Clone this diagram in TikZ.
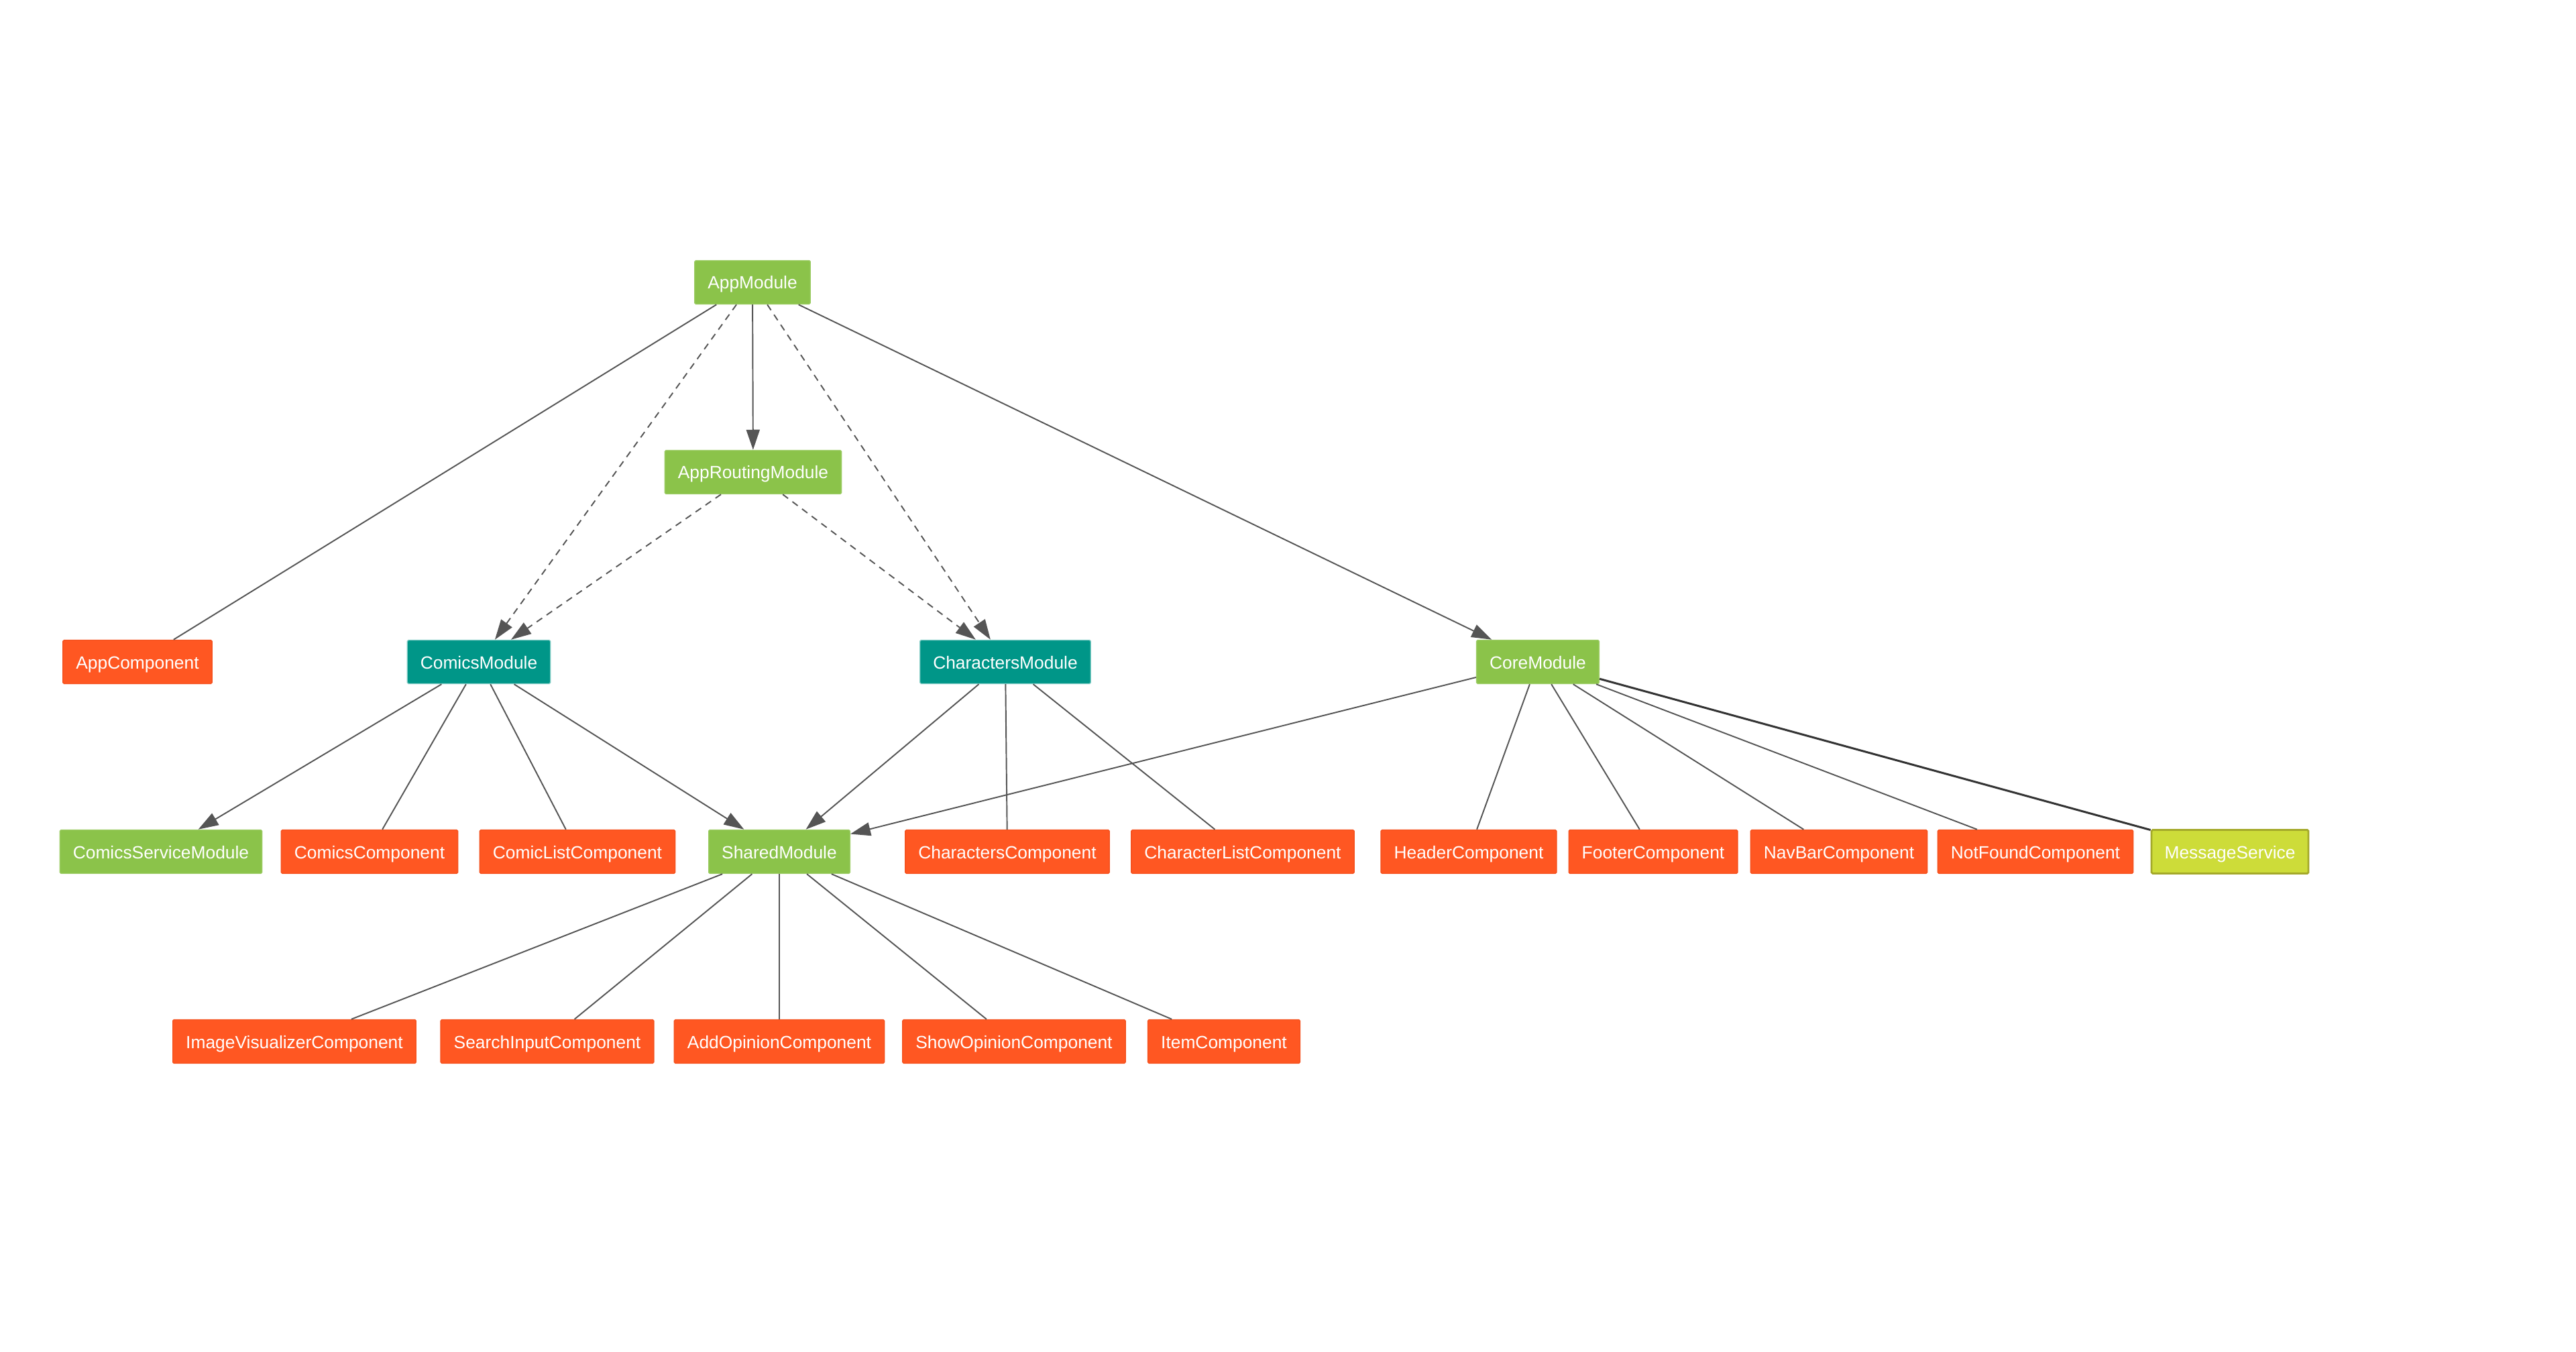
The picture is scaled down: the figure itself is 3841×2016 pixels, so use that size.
\documentclass[tikz,border=0pt]{standalone}
\usepackage{fontspec}
\setmainfont{Liberation Sans}
\usetikzlibrary{arrows.meta}

\definecolor{modgreen}{HTML}{8BC34A}
\definecolor{modgreenline}{HTML}{9CCC65}
\definecolor{lazyteal}{HTML}{009688}
\definecolor{lazytealline}{HTML}{80CBC4}
\definecolor{compred}{HTML}{FF5722}
\definecolor{compredline}{HTML}{F4511E}
\definecolor{servlime}{HTML}{CDDC39}
\definecolor{servlimeline}{HTML}{A4A92A}
\definecolor{edgegray}{HTML}{555555}

\begin{document}
\begin{tikzpicture}[
    x=0.01cm, y=-0.01cm,
    box/.style={
        rectangle,
        rounded corners=0.5pt,
        minimum height=0.65cm,
        inner xsep=0.195cm,
        inner ysep=0pt,
        text height=0.2cm,
        text depth=0cm,
        text=white,
        font=\fontsize{7.5}{9}\selectfont,
        line width=0.4pt
    },
    module/.style={box, fill=modgreen, draw=modgreenline},
    lazymodule/.style={box, fill=lazyteal, draw=lazytealline},
    component/.style={box, fill=compred, draw=compredline},
    service/.style={box, fill=servlime, draw=servlimeline, line width=0.8pt},
    link/.style={draw=edgegray, line width=0.55pt},
    dep/.style={link, -{Triangle[length=0.3cm, width=0.2cm]}},
    lazy/.style={dep, dash pattern=on 0.1cm off 0.08cm}
]

\useasboundingbox (0,0) rectangle (3841,2016);

% Root
\node[module] (app) at (1122,421) {AppModule};
\node[module] (routing) at (1123,704) {AppRoutingModule};

% Second level
\node[component] (appcomp) at (205,987) {AppComponent};
\node[lazymodule] (comics) at (714,987) {ComicsModule};
\node[lazymodule] (chars) at (1499,987) {CharactersModule};
\node[module] (core) at (2293,987) {CoreModule};

% Third level
\node[module] (comicsserv) at (240,1270) {ComicsServiceModule};
\node[component] (comicscomp) at (551,1270) {ComicsComponent};
\node[component] (comiclist) at (861,1270) {ComicListComponent};
\node[module] (shared) at (1162,1270) {SharedModule};
\node[component] (charscomp) at (1502,1270) {CharactersComponent};
\node[component] (charlist) at (1853,1270) {CharacterListComponent};
\node[component] (header) at (2190,1270) {HeaderComponent};
\node[component] (footer) at (2465,1270) {FooterComponent};
\node[component] (navbar) at (2742,1270) {NavBarComponent};
\node[component] (notfound) at (3035,1270) {NotFoundComponent};
\node[service] (message) at (3325,1270) {MessageService};

% Shared components
\node[component] (imgvis) at (439,1553) {ImageVisualizerComponent};
\node[component] (search) at (816,1553) {SearchInputComponent};
\node[component] (addop) at (1162,1553) {AddOpinionComponent};
\node[component] (showop) at (1512,1553) {ShowOpinionComponent};
\node[component] (item) at (1825,1553) {ItemComponent};

% AppModule
\draw[link] (app) -- (appcomp);
\draw[dep] (app) -- (routing);
\draw[dep] (app) -- (core);
\draw[lazy] (app) -- (comics);
\draw[lazy] (app) -- (chars);

% Routing
\draw[lazy] (routing) -- (comics);
\draw[lazy] (routing) -- (chars);

% ComicsModule
\draw[dep] (comics) -- (comicsserv);
\draw[link] (comics) -- (comicscomp);
\draw[link] (comics) -- (comiclist);
\draw[dep] (comics) -- (shared);

% CharactersModule
\draw[dep] (chars) -- (shared);
\draw[link] (chars) -- (charscomp);
\draw[link] (chars) -- (charlist);

% CoreModule
\draw[dep] (core) -- (shared);
\foreach \target in {header, footer, navbar, notfound}
  \draw[link] (core) -- (\target);
\draw[link, draw=black!80, line width=0.85pt] (core) -- (message);

% SharedModule
\foreach \target in {imgvis, search, addop, showop, item}
  \draw[link] (shared) -- (\target);

\end{tikzpicture}
\end{document}
